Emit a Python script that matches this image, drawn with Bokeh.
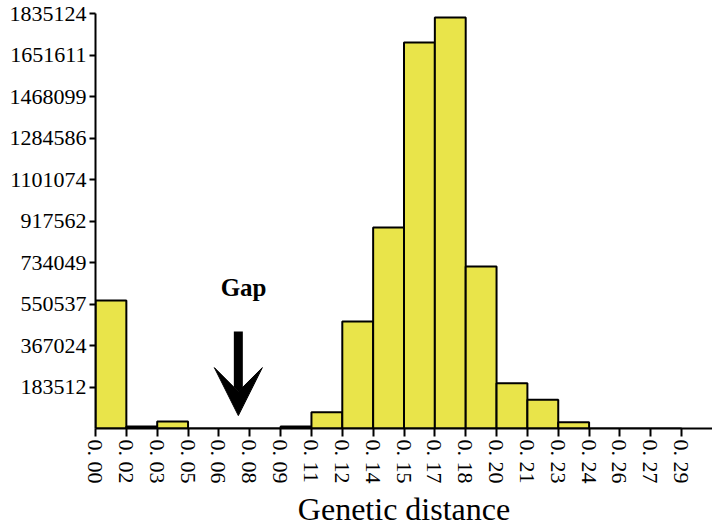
import math
from bokeh.plotting import figure
from bokeh.models import Range1d, FixedTicker, Arrow, VeeHead, Label, ColumnDataSource
from bokeh.embed import file_html
from bokeh.resources import INLINE

# x tick labels (bin edges of genetic distance, step 0.015)
x_tick_labels = ["0. 00", "0. 02", "0. 03", "0. 05", "0. 06", "0. 08", "0. 09",
                 "0. 11", "0. 12", "0. 14", "0. 15", "0. 17", "0. 18", "0. 20",
                 "0. 21", "0. 23", "0. 24", "0. 26", "0. 27", "0. 29"]
# counts per bin (bin i spans edge i to edge i+1)
counts = [566000, 9000, 31000, 0, 0, 0, 9000, 72000, 473000, 889000,
          1707000, 1817000, 716000, 200000, 127000, 28000, 0, 0, 0]
y_ticks = [183512, 367024, 550537, 734049, 917562, 1101074,
           1284586, 1468099, 1651611, 1835124]

gap_text = "Gap"
gap_bin = 4.63
gap_text_bin = 4.8
arrow_from = 429000
arrow_to = 57000
gap_text_y = 622000

SERIF = "Liberation Serif"

src = ColumnDataSource(dict(
    left=list(range(len(counts))),
    right=[i + 1 for i in range(len(counts))],
    top=counts,
    bottom=[0] * len(counts),
))

p = figure(width=712, height=529, output_backend="svg", toolbar_location=None,
           x_range=Range1d(0, 20), y_range=Range1d(0, 1835124),
           min_border_left=95, min_border_right=0, min_border_top=13,
           min_border_bottom=101)
p.outline_line_color = None
p.xgrid.visible = False
p.ygrid.visible = False
p.background_fill_color = "white"
p.border_fill_color = "white"

p.quad(left="left", right="right", top="top", bottom="bottom", source=src,
       fill_color="#E9E44A", line_color="black", line_width=2)

# x axis
xa = p.xaxis[0]
xa.ticker = FixedTicker(ticks=list(range(len(x_tick_labels))))
xa.major_label_overrides = {i: lab for i, lab in enumerate(x_tick_labels)}
xa.major_label_orientation = -math.pi / 2
xa.major_label_text_font = SERIF
xa.major_label_text_font_size = "22px"
xa.major_label_text_color = "black"
xa.major_label_standoff = 3
xa.major_tick_out = 8
xa.major_tick_in = 0
xa.minor_tick_out = 0
xa.minor_tick_in = 0
xa.major_tick_line_width = 2
xa.axis_line_width = 2
xa.axis_line_color = "black"
xa.major_tick_line_color = "black"
xa.axis_label = "Genetic distance"
xa.axis_label_text_font = SERIF
xa.axis_label_text_font_size = "32px"
xa.axis_label_text_font_style = "normal"
xa.axis_label_text_color = "black"
xa.axis_label_standoff = 4

# y axis
ya = p.yaxis[0]
ya.ticker = FixedTicker(ticks=y_ticks)
ya.major_label_overrides = {v: str(v) for v in y_ticks}
ya.major_label_text_font = SERIF
ya.major_label_text_font_size = "22px"
ya.major_label_text_color = "black"
ya.major_label_standoff = 3
ya.major_tick_out = 6
ya.major_tick_in = 0
ya.minor_tick_out = 0
ya.minor_tick_in = 0
ya.major_tick_line_width = 2
ya.axis_line_width = 2
ya.axis_line_color = "black"
ya.major_tick_line_color = "black"

# Gap annotation
p.add_layout(Arrow(x_start=gap_bin, y_start=arrow_from, x_end=gap_bin, y_end=arrow_to,
                   line_width=9, line_color="black",
                   end=VeeHead(size=48, fill_color="black", line_color="black")))
p.add_layout(Label(x=gap_text_bin, y=gap_text_y, text=gap_text, text_font=SERIF,
                   text_font_style="bold", text_font_size="25px", text_align="center",
                   text_baseline="alphabetic", text_color="black"))

open("out.html", "w").write(file_html(p, INLINE))
